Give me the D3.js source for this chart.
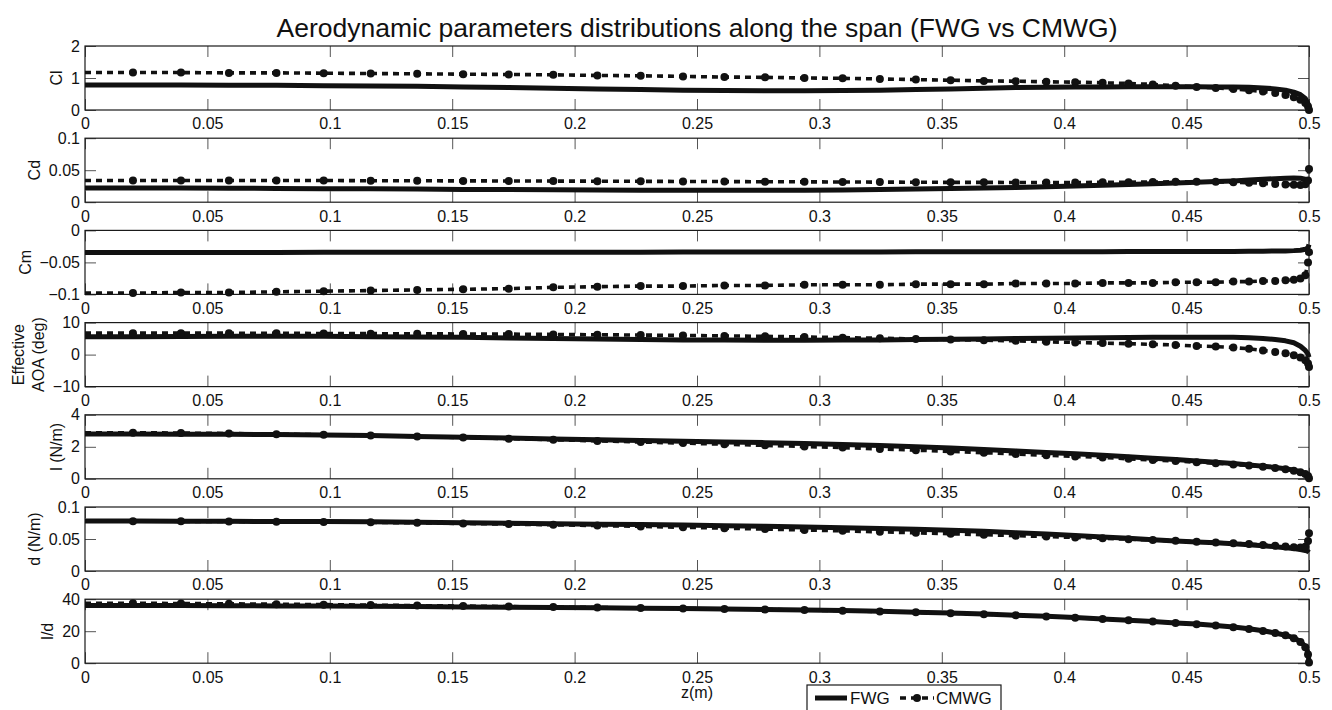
<!DOCTYPE html>
<html>
<head>
<meta charset="utf-8">
<script src="https://cdnjs.cloudflare.com/ajax/libs/d3/7.8.5/d3.min.js"></script>
<style>
body { margin: 0; background: #fff; }
svg { font-family: "Liberation Sans", Arial, Helvetica, sans-serif; }
</style>
</head>
<body>
<svg id="chart" width="1332" height="710"></svg>
<script>
// spanwise stations (m)
var zStations = [0, 0.0196, 0.0392, 0.0588, 0.0782, 0.0975, 0.1167, 0.1357, 0.1545, 0.1731,
    0.1913, 0.2093, 0.2270, 0.2443, 0.2612, 0.2778, 0.2939, 0.3095, 0.3247, 0.3394,
    0.3536, 0.3672, 0.3802, 0.3927, 0.4045, 0.4157, 0.4263, 0.4362, 0.4455, 0.4541,
    0.4619, 0.4691, 0.4755, 0.4812, 0.4862, 0.4904, 0.4938, 0.4965, 0.4985, 0.4996, 0.5];

var clFWG = [0.78, 0.78, 0.78, 0.77, 0.77, 0.76, 0.75, 0.74, 0.72, 0.70,
    0.68, 0.66, 0.64, 0.62, 0.61, 0.60, 0.60, 0.61, 0.62, 0.64,
    0.66, 0.68, 0.70, 0.71, 0.72, 0.72, 0.73, 0.73, 0.73, 0.73,
    0.72, 0.72, 0.71, 0.69, 0.66, 0.62, 0.56, 0.48, 0.36, 0.20, 0.00];
var clCMWG = [1.17, 1.17, 1.17, 1.16, 1.16, 1.15, 1.14, 1.13, 1.12, 1.11,
    1.10, 1.08, 1.07, 1.05, 1.03, 1.02, 1.00, 0.99, 0.97, 0.95,
    0.93, 0.91, 0.90, 0.88, 0.87, 0.85, 0.83, 0.80, 0.76, 0.72,
    0.69, 0.66, 0.62, 0.58, 0.53, 0.47, 0.40, 0.32, 0.22, 0.11, 0.00];

var cdFWG = [0.022, 0.022, 0.022, 0.0218, 0.0215, 0.0212, 0.021, 0.0205, 0.020, 0.0197,
    0.0193, 0.019, 0.0188, 0.0186, 0.0185, 0.0185, 0.0187, 0.019, 0.0197, 0.0205,
    0.0213, 0.022, 0.023, 0.024, 0.0252, 0.0265, 0.0278, 0.029, 0.030, 0.0312,
    0.0322, 0.0333, 0.0345, 0.0357, 0.0368, 0.0375, 0.0378, 0.0375, 0.036, 0.033, 0.029];
var cdCMWG = [0.034, 0.034, 0.034, 0.034, 0.034, 0.034, 0.0335, 0.0335, 0.0333, 0.0332,
    0.033, 0.0328, 0.0326, 0.0324, 0.0322, 0.032, 0.0318, 0.0316, 0.0314, 0.0312,
    0.031, 0.031, 0.0308, 0.0308, 0.0308, 0.031, 0.0312, 0.0315, 0.0318, 0.032,
    0.0318, 0.0312, 0.0305, 0.0295, 0.0285, 0.0277, 0.0272, 0.027, 0.028, 0.034, 0.052];

var cmFWG = [-0.0345, -0.0345, -0.0345, -0.0344, -0.0344, -0.0343, -0.0343, -0.0342, -0.0342, -0.0341,
    -0.0341, -0.034, -0.034, -0.0339, -0.0338, -0.0338, -0.0337, -0.0336, -0.0336, -0.0335,
    -0.0334, -0.0334, -0.0333, -0.0333, -0.0332, -0.0332, -0.0331, -0.0331, -0.033, -0.033,
    -0.0329, -0.0328, -0.0326, -0.0324, -0.0322, -0.032, -0.0316, -0.031, -0.0295, -0.027, -0.022];
var cmCMWG = [-0.098, -0.098, -0.097, -0.097, -0.096, -0.095, -0.094, -0.093, -0.092, -0.091,
    -0.089, -0.088, -0.087, -0.087, -0.086, -0.086, -0.085, -0.085, -0.085, -0.084,
    -0.084, -0.084, -0.083, -0.083, -0.083, -0.082, -0.082, -0.082, -0.081, -0.081,
    -0.081, -0.080, -0.080, -0.079, -0.079, -0.078, -0.077, -0.075, -0.070, -0.050, -0.034];

var aoaFWG = [5.6, 5.6, 5.65, 5.7, 5.7, 5.7, 5.6, 5.5, 5.4, 5.2,
    5.0, 4.9, 4.7, 4.6, 4.55, 4.5, 4.5, 4.55, 4.6, 4.7,
    4.8, 4.9, 5.0, 5.1, 5.2, 5.3, 5.35, 5.4, 5.45, 5.45,
    5.45, 5.4, 5.3, 5.05, 4.7, 4.3, 3.7, 2.6, 1.3, 0.2, -0.8];
var aoaCMWG = [6.7, 6.7, 6.7, 6.7, 6.65, 6.6, 6.55, 6.5, 6.45, 6.4,
    6.3, 6.2, 6.1, 6.0, 5.85, 5.7, 5.5, 5.3, 5.1, 4.9,
    4.7, 4.5, 4.3, 4.0, 3.8, 3.6, 3.4, 3.2, 3.0, 2.7,
    2.5, 2.2, 1.8, 1.3, 0.8, 0.4, -0.2, -0.9, -1.8, -2.8, -3.9];

var liftFWG = [2.80, 2.80, 2.79, 2.78, 2.77, 2.74, 2.70, 2.65, 2.60, 2.55,
    2.49, 2.44, 2.39, 2.35, 2.30, 2.26, 2.21, 2.15, 2.08, 2.00,
    1.92, 1.83, 1.74, 1.65, 1.56, 1.47, 1.38, 1.29, 1.20, 1.11,
    1.03, 0.95, 0.87, 0.79, 0.71, 0.63, 0.54, 0.44, 0.32, 0.18, 0.0];
var liftCMWG = [2.88, 2.88, 2.86, 2.83, 2.79, 2.75, 2.70, 2.64, 2.58, 2.51,
    2.44, 2.37, 2.30, 2.23, 2.16, 2.09, 2.02, 1.95, 1.87, 1.79,
    1.71, 1.63, 1.55, 1.47, 1.40, 1.33, 1.25, 1.18, 1.11, 1.04,
    0.97, 0.90, 0.83, 0.76, 0.68, 0.60, 0.51, 0.41, 0.30, 0.17, 0.03];

var dragFWG = [0.078, 0.078, 0.0778, 0.0776, 0.0774, 0.0772, 0.0768, 0.0762, 0.0755, 0.0748,
    0.074, 0.0732, 0.0725, 0.0717, 0.0708, 0.0698, 0.0688, 0.0677, 0.0665, 0.0652,
    0.0635, 0.062, 0.0598, 0.0578, 0.0555, 0.053, 0.051, 0.049, 0.047, 0.0455,
    0.044, 0.0425, 0.041, 0.0395, 0.038, 0.0365, 0.035, 0.0335, 0.032, 0.0305, 0.029];
var dragCMWG = [0.078, 0.0778, 0.0776, 0.0773, 0.077, 0.0766, 0.076, 0.0752, 0.0743, 0.0733,
    0.0722, 0.071, 0.0697, 0.0683, 0.0669, 0.0655, 0.0641, 0.0627, 0.0612, 0.0597,
    0.0582, 0.0567, 0.0552, 0.0538, 0.0524, 0.051, 0.0497, 0.0484, 0.0471, 0.0458,
    0.0445, 0.0432, 0.042, 0.0407, 0.0394, 0.0382, 0.0372, 0.0368, 0.038, 0.047, 0.059];

var ldFWG = [36.0, 36.0, 36.0, 35.9, 35.8, 35.7, 35.6, 35.4, 35.2, 35.0,
    34.8, 34.6, 34.4, 34.2, 33.9, 33.6, 33.3, 32.9, 32.4, 31.9,
    31.3, 30.7, 30.0, 29.3, 28.5, 27.6, 26.8, 26.0, 25.2, 24.5,
    23.6, 22.6, 21.5, 20.3, 18.9, 17.5, 15.8, 13.6, 10.5, 6.5, 1.0];
var ldCMWG = [37.5, 37.5, 37.3, 37.1, 36.9, 36.6, 36.3, 36.0, 35.7, 35.4,
    35.1, 34.8, 34.5, 34.2, 33.9, 33.6, 33.2, 32.8, 32.3, 31.8,
    31.2, 30.6, 29.9, 29.2, 28.4, 27.6, 26.8, 26.0, 25.2, 24.4,
    23.5, 22.5, 21.4, 20.2, 18.9, 17.4, 15.6, 13.3, 10.0, 5.5, 0.5];

var xTicks = [0, 0.05, 0.1, 0.15, 0.2, 0.25, 0.3, 0.35, 0.4, 0.45, 0.5];
var yLabels = [["Cl"], ["Cd"], ["Cm"], ["Effective", "AOA (deg)"], ["l (N/m)"], ["d (N/m)"], ["l/d"]];
var yDomains = [[0, 2], [0, 0.1], [-0.1, 0], [-10, 10], [0, 4], [0, 0.1], [0, 40]];
var yTicks = [[0, 1, 2], [0, 0.05, 0.1], [-0.1, -0.05, 0], [-10, 0, 10], [0, 2, 4], [0, 0.05, 0.1], [0, 20, 40]];
var fwgSeries = [clFWG, cdFWG, cmFWG, aoaFWG, liftFWG, dragFWG, ldFWG];
var cmwgSeries = [clCMWG, cdCMWG, cmCMWG, aoaCMWG, liftCMWG, dragCMWG, ldCMWG];
var legendNames = ["FWG", "CMWG"];

var svg = d3.select('#chart');

var plotLeft = 85, plotRight = 1309;
var panelTop = 46, panelStep = 92.2, panelHeight = 64;
var tickLen = 11;
var fmt = d3.format('~g');
var dash = '6,5';

var xscale = d3.scaleLinear().domain([0, 0.5]).range([plotLeft, plotRight]);

// title
svg.append('text')
    .attr('x', (plotLeft + plotRight) / 2)
    .attr('y', 37)
    .attr('text-anchor', 'middle')
    .style('font-size', '26.5px')
    .style('fill', '#111')
    .text('Aerodynamic parameters distributions along the span (FWG vs CMWG)');

function styleAxis(sel) {
    sel.select('.domain').remove();
    sel.selectAll('.tick line').attr('stroke', '#555').attr('stroke-width', 1);
    sel.selectAll('.tick text').style('font-size', '16px').style('fill', '#111')
        .style('font-family', '"Liberation Sans", Arial, sans-serif');
}

yDomains.forEach(function(dom, i) {
    var top = panelTop + i * panelStep;
    var bottom = top + panelHeight;
    var yscale = d3.scaleLinear().domain(dom).range([bottom, top]);
    var g = svg.append('g').attr('class', 'panel');

    // x ticks, bottom with labels, top without
    g.append('g')
        .attr('transform', 'translate(0,' + bottom + ')')
        .call(d3.axisBottom(xscale).tickValues(xTicks).tickFormat(fmt)
            .tickSizeInner(-tickLen).tickSizeOuter(0).tickPadding(8))
        .call(styleAxis);
    g.append('g')
        .attr('transform', 'translate(0,' + top + ')')
        .call(d3.axisTop(xscale).tickValues(xTicks).tickFormat('')
            .tickSizeInner(-tickLen).tickSizeOuter(0))
        .call(styleAxis);

    var yAxisG = g.append('g')
        .attr('transform', 'translate(' + plotLeft + ',0)')
        .call(d3.axisLeft(yscale).tickValues(yTicks[i]).tickFormat(fmt)
            .tickSizeInner(-tickLen).tickSizeOuter(0).tickPadding(5))
        .call(styleAxis);
    g.append('g')
        .attr('transform', 'translate(' + plotRight + ',0)')
        .call(d3.axisRight(yscale).tickValues(yTicks[i]).tickFormat('')
            .tickSizeInner(-tickLen).tickSizeOuter(0))
        .call(styleAxis);

    // box
    g.append('rect')
        .attr('x', plotLeft).attr('y', top)
        .attr('width', plotRight - plotLeft).attr('height', panelHeight)
        .attr('fill', 'none').attr('stroke', '#1a1a1a').attr('stroke-width', 1.2);

    // y label sits left of the tick labels like matlab does
    var bb = yAxisG.node().getBBox();
    var lab = yLabels[i];
    var midY = (top + bottom) / 2;
    lab.forEach(function(txt, k) {
        var lx = plotLeft + bb.x - 9 - (lab.length - 1 - k) * 20;
        g.append('text')
            .attr('transform', 'translate(' + lx + ',' + midY + ') rotate(-90)')
            .attr('text-anchor', 'middle')
            .style('font-size', '16px')
            .style('fill', '#111')
            .text(txt);
    });

    var pts = zStations.map(function(z, k) { return [z, fwgSeries[i][k], cmwgSeries[i][k]]; });

    var lineF = d3.line().x(function(d) { return xscale(d[0]); }).y(function(d) { return yscale(d[1]); });
    var lineC = d3.line().x(function(d) { return xscale(d[0]); }).y(function(d) { return yscale(d[2]); });

    g.append('path')
        .datum(pts)
        .attr('d', lineF)
        .attr('fill', 'none')
        .attr('stroke', '#111')
        .attr('stroke-width', 5)
        .attr('stroke-linejoin', 'round');

    g.append('path')
        .datum(pts)
        .attr('d', lineC)
        .attr('fill', 'none')
        .attr('stroke', '#111')
        .attr('stroke-width', 3.6)
        .attr('stroke-dasharray', dash);

    g.selectAll('.dot')
        .data(pts.slice(1))
        .enter().append('circle')
        .attr('class', 'dot')
        .attr('cx', function(d) { return xscale(d[0]); })
        .attr('cy', function(d) { return yscale(d[2]); })
        .attr('r', 4)
        .style('fill', '#111');
});

// x label
svg.append('text')
    .attr('x', (plotLeft + plotRight) / 2)
    .attr('y', 698)
    .attr('text-anchor', 'middle')
    .style('font-size', '16px')
    .style('fill', '#111')
    .text('z(m)');

// legend
var leg = svg.append('g').attr('transform', 'translate(807,685)');
leg.append('rect')
    .attr('width', 194).attr('height', 30)
    .attr('fill', '#fff').attr('stroke', '#1a1a1a').attr('stroke-width', 1.2);
leg.append('line')
    .attr('x1', 8).attr('x2', 40).attr('y1', 13).attr('y2', 13)
    .attr('stroke', '#111').attr('stroke-width', 5);
leg.append('text')
    .attr('x', 43).attr('y', 19)
    .style('font-size', '17px').style('fill', '#111')
    .text(legendNames[0]);
leg.append('line')
    .attr('x1', 93).attr('x2', 127).attr('y1', 13).attr('y2', 13)
    .attr('stroke', '#111').attr('stroke-width', 3.6).attr('stroke-dasharray', dash);
leg.append('circle')
    .attr('cx', 110).attr('cy', 13).attr('r', 4).style('fill', '#111');
leg.append('text')
    .attr('x', 129).attr('y', 19)
    .style('font-size', '17px').style('fill', '#111')
    .text(legendNames[1]);
</script>
</body>
</html>
